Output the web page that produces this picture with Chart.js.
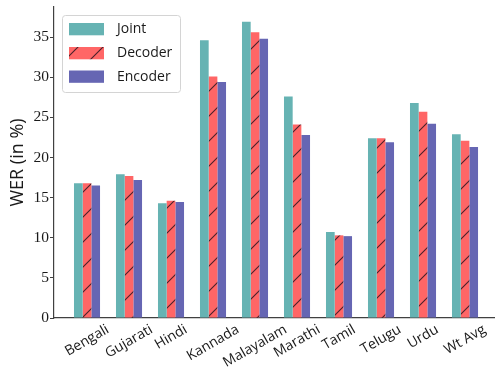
<!DOCTYPE html>
<html>
<head>
<meta charset="utf-8">
<script src="https://cdn.jsdelivr.net/npm/chart.js@4.4.1/dist/chart.umd.min.js"></script>
<style>
  html, body { margin: 0; padding: 0; background: #fff; }
  #wrap { width: 495px; height: 370px; }
</style>
</head>
<body>
<div id="wrap"><canvas id="c" width="495" height="370"></canvas></div>
<script>
// Word error rate per language for the three fine-tuning setups
const categories = ['Bengali', 'Gujarati', 'Hindi', 'Kannada', 'Malayalam', 'Marathi', 'Tamil', 'Telugu', 'Urdu', 'Wt Avg'];
const seriesNames = ['Joint', 'Decoder', 'Encoder'];
const jointWER   = [16.8, 17.9, 14.3, 34.6, 36.9, 27.6, 10.7, 22.4, 26.8, 22.9];
const decoderWER = [16.8, 17.7, 14.6, 30.1, 35.6, 24.1, 10.3, 22.4, 25.7, 22.1];
const encoderWER = [16.5, 17.2, 14.45, 29.4, 34.8, 22.8, 10.2, 21.9, 24.2, 21.3];
const yTickStep = 5;

// diagonal "/" hatch over a light red fill
function makeHatch(fill, line, period) {
  const t = document.createElement('canvas');
  t.width = period; t.height = period;
  const g = t.getContext('2d');
  g.fillStyle = fill;
  g.fillRect(0, 0, period, period);
  g.strokeStyle = line;
  g.lineWidth = 1.1;
  for (const off of [-period, 0, period]) {
    g.beginPath();
    g.moveTo(off - 1, period + 1);
    g.lineTo(off + period + 1, -1);
    g.stroke();
  }
  return document.getElementById('c').getContext('2d').createPattern(t, 'repeat');
}

const jointColor = 'rgb(102,179,179)';
const encoderColor = 'rgb(102,102,179)';
const decoderFill = makeHatch('rgb(255,102,102)', 'rgba(40,20,30,0.85)', 25);

const toPoints = arr => arr.map((v, i) => ({ x: i, y: v }));

const labelFont = '"Open Sans", "DejaVu Sans", sans-serif';

// rotated category labels and the in-plot legend
const decorations = {
  id: 'decorations',
  afterDraw(chart) {
    const ctx = chart.ctx;
    const xs = chart.scales.x;
    const ang = 30 * Math.PI / 180;
    ctx.save();
    ctx.font = '14px ' + labelFont;
    ctx.fillStyle = '#1a1a1a';
    ctx.textAlign = 'center';
    ctx.textBaseline = 'middle';
    categories.forEach((lab, i) => {
      const w = ctx.measureText(lab).width;
      const h = 15;
      const bh = w * Math.sin(ang) + h * Math.cos(ang);
      const cx = xs.getPixelForValue(i);
      const cy = chart.chartArea.bottom + 4 + bh / 2;
      ctx.save();
      ctx.translate(cx, cy);
      ctx.rotate(-ang);
      ctx.fillText(lab, 0, 0);
      ctx.restore();
    });

    // legend box
    const bx = 62.5, by = 15.5, bw = 118, bhh = 77;
    ctx.beginPath();
    ctx.roundRect(bx, by, bw, bhh, 3);
    ctx.fillStyle = 'rgba(255,255,255,0.85)';
    ctx.fill();
    ctx.strokeStyle = '#d4d4d4';
    ctx.lineWidth = 1;
    ctx.stroke();

    const fills = chart.data.datasets.map(d => d.backgroundColor);
    const rowY = [29, 53, 76.5];
    ctx.textAlign = 'left';
    ctx.textBaseline = 'middle';
    ctx.font = '14px ' + labelFont;
    chart.data.datasets.forEach((d, i) => {
      ctx.fillStyle = fills[i];
      ctx.fillRect(69, rowY[i] - 6, 35, 12.3);
      ctx.fillStyle = '#1a1a1a';
      ctx.fillText(d.label, 117, rowY[i] + 0.5);
    });
    ctx.restore();
  }
};

new Chart(document.getElementById('c'), {
  type: 'bar',
  data: {
    datasets: [
      { label: seriesNames[0], data: toPoints(jointWER), backgroundColor: jointColor },
      { label: seriesNames[1], data: toPoints(decoderWER), backgroundColor: decoderFill },
      { label: seriesNames[2], data: toPoints(encoderWER), backgroundColor: encoderColor }
    ]
  },
  options: {
    responsive: false,
    animation: false,
    devicePixelRatio: 1,
    layout: { padding: { top: 7, right: 0, left: 0, bottom: 0 } },
    datasets: { bar: { categoryPercentage: 0.62, barPercentage: 1, borderWidth: 0 } },
    plugins: { legend: { display: false }, tooltip: { enabled: false } },
    scales: {
      x: {
        type: 'linear',
        min: -0.786,
        max: 9.714,
        offset: false,
        grid: { display: false },
        ticks: { display: false },
        border: { display: true, color: '#404040', width: 1.2 },
        afterFit(s) { s.height = 52; s.paddingLeft = 0; s.paddingRight = 0; }
      },
      y: {
        min: 0,
        max: 38.75,
        ticks: {
          stepSize: yTickStep,
          includeBounds: false,
          padding: 1,
          color: '#1a1a1a',
          font: { family: '"Liberation Serif", "DejaVu Serif", serif', size: 15.5 }
        },
        grid: { display: true, drawOnChartArea: false, drawTicks: true, tickLength: 4, color: '#404040' },
        border: { display: true, color: '#404040', width: 1.2 },
        title: {
          display: true,
          text: 'WER (in %)',
          color: '#1a1a1a',
          font: { family: labelFont, size: 18 },
          padding: { top: 7, bottom: 0 }
        },
        afterFit(s) { s.width = 54; s.paddingTop = 0; s.paddingBottom = 0; }
      }
    }
  },
  plugins: [decorations]
});
</script>
</body>
</html>
